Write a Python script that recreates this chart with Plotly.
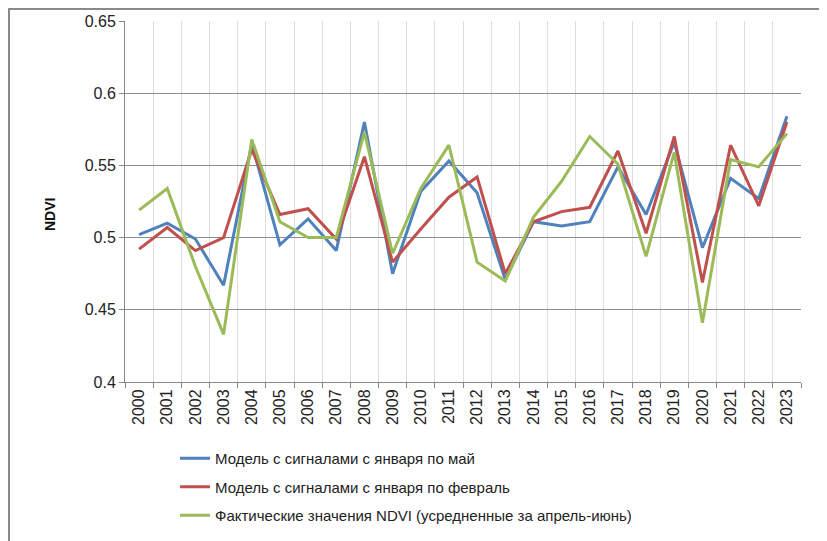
import plotly.graph_objects as go

years = [str(y) for y in range(2000, 2024)]

model_jan_may = [0.502, 0.510, 0.499, 0.467, 0.565, 0.495, 0.513, 0.491, 0.580, 0.475,
                 0.532, 0.553, 0.531, 0.471, 0.511, 0.508, 0.511, 0.549, 0.516, 0.566,
                 0.493, 0.541, 0.527, 0.584]
model_jan_feb = [0.492, 0.507, 0.491, 0.500, 0.561, 0.516, 0.520, 0.499, 0.556, 0.483,
                 0.506, 0.528, 0.542, 0.475, 0.511, 0.518, 0.521, 0.560, 0.503, 0.570,
                 0.469, 0.564, 0.522, 0.580]
actual_ndvi = [0.519, 0.534, 0.480, 0.433, 0.568, 0.511, 0.500, 0.500, 0.573, 0.489,
               0.534, 0.564, 0.483, 0.470, 0.514, 0.539, 0.570, 0.551, 0.487, 0.559,
               0.441, 0.554, 0.549, 0.572]

series_names = [
    "Модель с сигналами с января по май",
    "Модель с сигналами с января по февраль",
    "Фактические значения NDVI (усредненные за апрель-июнь)",
]
series_colors = ["#4F81BD", "#C0504D", "#9BBB59"]

y_ticks = [0.4, 0.45, 0.5, 0.55, 0.6, 0.65]
y_tick_text = ["0.4", "0.45", "0.5", "0.55", "0.6", "0.65"]

fig = go.Figure()
for i, (name, vals, col) in enumerate(zip(series_names,
                                          [model_jan_may, model_jan_feb, actual_ndvi],
                                          series_colors)):
    fig.add_trace(go.Scatter(x=years, y=vals, mode="lines", name=name,
                             legendgroup=f"g{i}",
                             line=dict(color=col, width=3)))

# page is offset by the default 8px body margin
OFF = 8
W, H = 827 - OFF, 541 - OFF
L, T = 125 - OFF, 21 - OFF
pw, ph = 676, 361
R, B = W - L - pw, H - T - ph

def px_x(x):
    return (x - OFF - L) / pw

def px_y(y):
    return (H - B - (y - OFF)) / ph

fig.update_layout(
    width=W, height=H,
    margin=dict(l=L, r=R, t=T, b=B, autoexpand=False),
    paper_bgcolor="white", plot_bgcolor="white",
    font=dict(family="Liberation Sans, Arial, sans-serif", color="#222222"),
    showlegend=True,
    legend=dict(x=px_x(175), y=px_y(442), xanchor="left", yanchor="top",
                font=dict(size=15, color="#222222"),
                tracegroupgap=6, bgcolor="rgba(0,0,0,0)",
                itemwidth=30),
    xaxis=dict(type="category", range=[-0.5, 23.5], tickson="boundaries",
               showgrid=True, gridcolor="#DDDDDD", gridwidth=1,
               showline=True, linecolor="#888888", linewidth=1,
               ticks="outside", ticklen=5, tickcolor="#888888",
               tickangle=-90, tickfont=dict(size=16, color="#222222")),
    yaxis=dict(range=[0.4, 0.65], tickvals=y_ticks, ticktext=y_tick_text,
               showgrid=True, gridcolor="#8C8C8C", gridwidth=1,
               showline=True, linecolor="#888888", linewidth=1,
               ticks="outside", ticklen=5, tickcolor="#888888",
               tickfont=dict(size=16, color="#222222"), zeroline=False),
    annotations=[dict(text="<b>NDVI</b>", x=px_x(40), y=px_y(215), xref="paper", yref="paper",
                      textangle=-90, showarrow=False, font=dict(size=14, color="#111111"))],
    shapes=[dict(type="rect", xref="paper", yref="paper",
                 x0=px_x(OFF + 1), x1=px_x(850), y0=px_y(580), y1=px_y(OFF + 1),
                 line=dict(color="#8A8A8A", width=2), fillcolor="rgba(0,0,0,0)",
                 layer="below")],
)

fig.write_html("out.html")
